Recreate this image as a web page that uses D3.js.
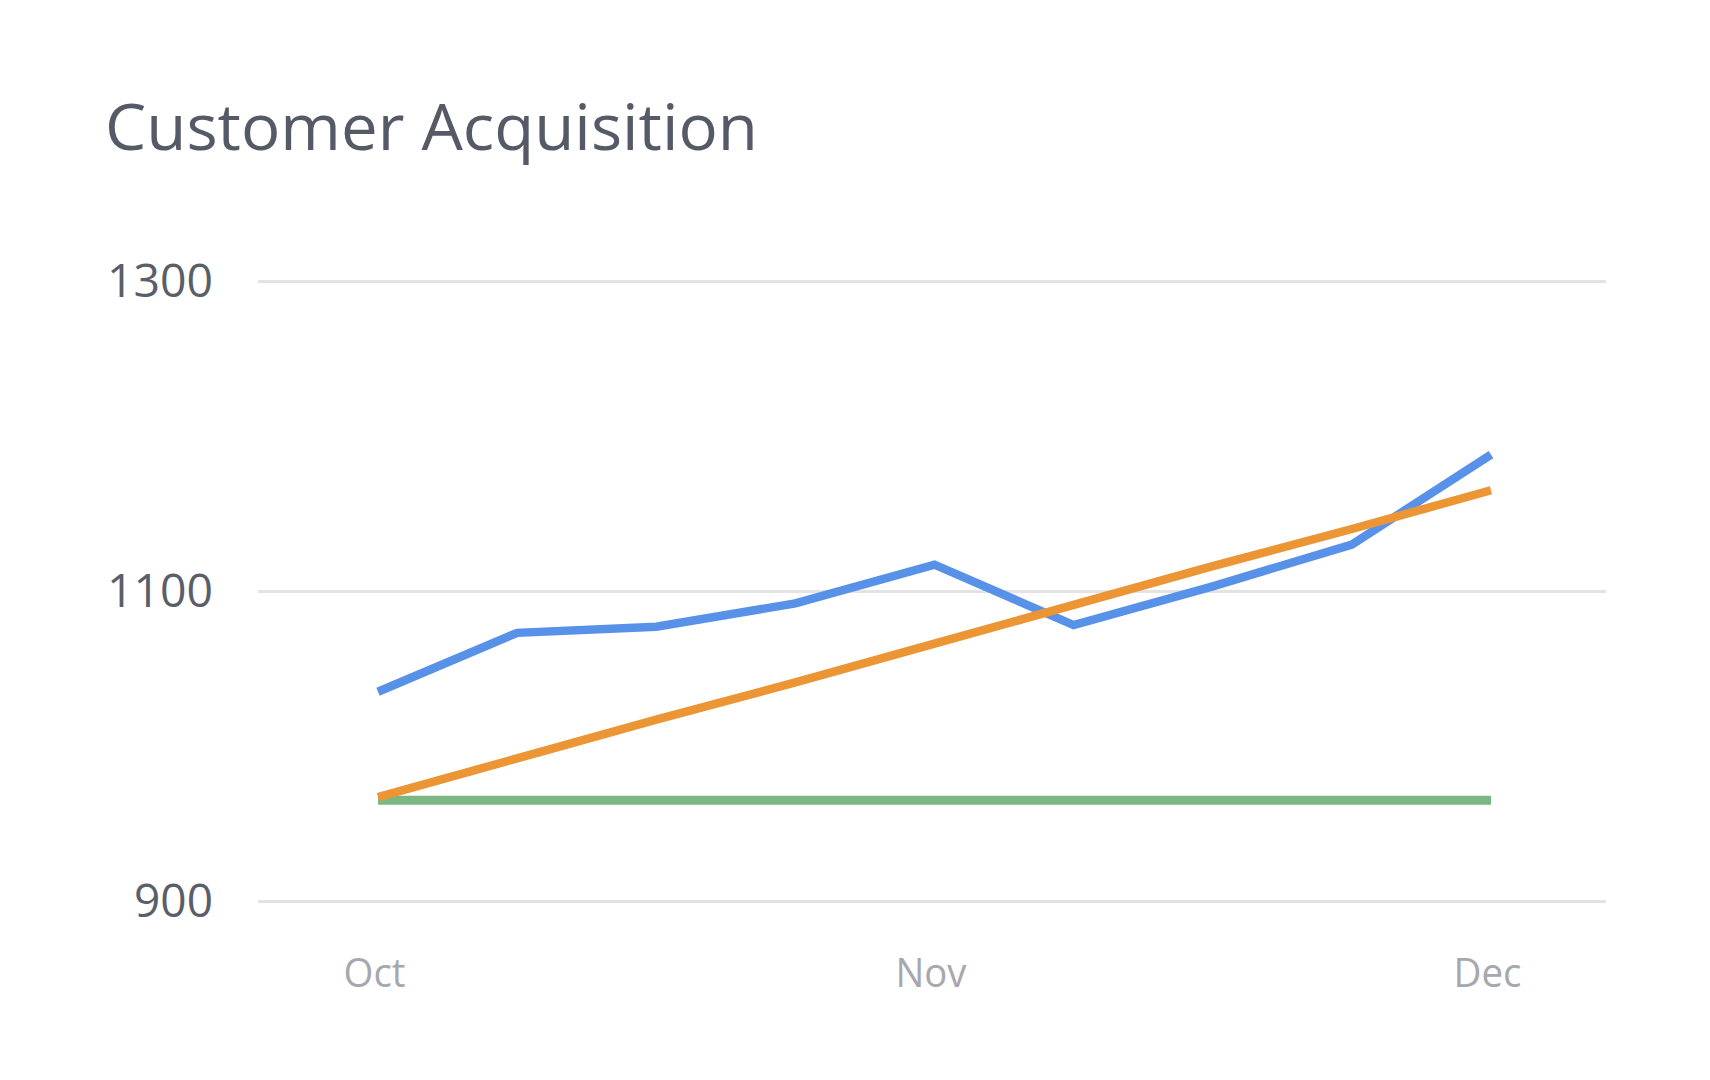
<!DOCTYPE html>
<html>
<head>
<meta charset="utf-8">
<script src="https://cdn.jsdelivr.net/npm/d3@7"></script>
<style>
  html, body { margin: 0; padding: 0; background: #ffffff; }
  svg { display: block; }
</style>
</head>
<body>
<svg id="chart" width="1710" height="1080"></svg>
<script>
const title = "Customer Acquisition";
const categories = ["Oct 1", "Oct 8", "Oct 16", "Oct 23", "Nov 1", "Nov 8", "Nov 16", "Nov 23", "Dec 1"];
const actual = [1035, 1073, 1077, 1092, 1117, 1078, 1103, 1130, 1188];
const target = [967, 992, 1017, 1041, 1066, 1091, 1116, 1140, 1165];
const baseline = [965, 965, 965, 965, 965, 965, 965, 965, 965];
const xTickValues = ["Oct 1", "Nov 1", "Dec 1"];
const xTickLabels = ["Oct", "Nov", "Dec"];
const yTicks = [900, 1100, 1300];

const svg = d3.select("#chart");
const fontFam = "'Open Sans', 'Noto Sans', sans-serif";

const x = d3.scalePoint().domain(categories).range([378, 1491]);
const y = d3.scaleLinear().domain([900, 1300]).range([901, 281]);

// Title
const t = svg.append("text")
  .attr("x", 105).attr("y", 150)
  .attr("font-family", fontFam)
  .attr("font-size", 64)
  .attr("fill", "#555a66")
  .text(title);
const tl = t.node().getComputedTextLength();
if (Math.abs(tl - 653) > 4) t.attr("textLength", 653).attr("lengthAdjust", "spacingAndGlyphs");

// Y grid + labels
const yAxis = d3.axisLeft(y).tickValues(yTicks).tickSize(-(1606 - 258)).tickPadding(45).tickFormat(d3.format("d"));
const yg = svg.append("g").attr("transform", "translate(258,0)").call(yAxis);
yg.select(".domain").remove();
yg.selectAll(".tick line").attr("stroke", "#e3e3e3").attr("stroke-width", 3);
yg.selectAll(".tick text")
  .attr("font-family", fontFam)
  .attr("font-size", 45)
  .attr("fill", "#5a5e69")
  .attr("dy", "0.35em")
  .each(function(d) {
    const w = String(d).length === 4 ? 106 : 79;
    d3.select(this).attr("textLength", w).attr("lengthAdjust", "spacingAndGlyphs");
  });

// X labels
const labelMap = new Map(xTickValues.map((v, i) => [v, xTickLabels[i]]));
const xAxis = d3.axisBottom(x).tickValues(xTickValues).tickSize(0).tickPadding(0).tickFormat(d => labelMap.get(d));
const xg = svg.append("g").attr("transform", "translate(-4,0)").call(xAxis);
xg.select(".domain").remove();
xg.selectAll(".tick text")
  .attr("font-family", fontFam)
  .attr("font-size", 40)
  .attr("fill", "#a6a8ae")
  .attr("y", 987)
  .attr("dy", 0);
xg.selectAll(".tick text").each(function() {
  const s = d3.select(this);
  const lbl = s.text();
  const targetW = lbl === "Oct" ? 62 : (lbl === "Nov" ? 71 : 68);
  s.attr("textLength", targetW).attr("lengthAdjust", "spacingAndGlyphs");
});

const line = d3.line().x((d, i) => x(categories[i])).y(d => y(d));

svg.append("path").datum(baseline)
  .attr("d", line).attr("fill", "none")
  .attr("stroke", "#7bb785").attr("stroke-width", 9).attr("stroke-linecap", "butt");

svg.append("path").datum(actual)
  .attr("d", line).attr("fill", "none")
  .attr("stroke", "#5892e8").attr("stroke-width", 8.5)
  .attr("stroke-linejoin", "miter").attr("stroke-linecap", "butt");

svg.append("path").datum(target)
  .attr("d", line).attr("fill", "none")
  .attr("stroke", "#ec9535").attr("stroke-width", 8.5)
  .attr("stroke-linejoin", "miter").attr("stroke-linecap", "butt");
</script>
</body>
</html>
